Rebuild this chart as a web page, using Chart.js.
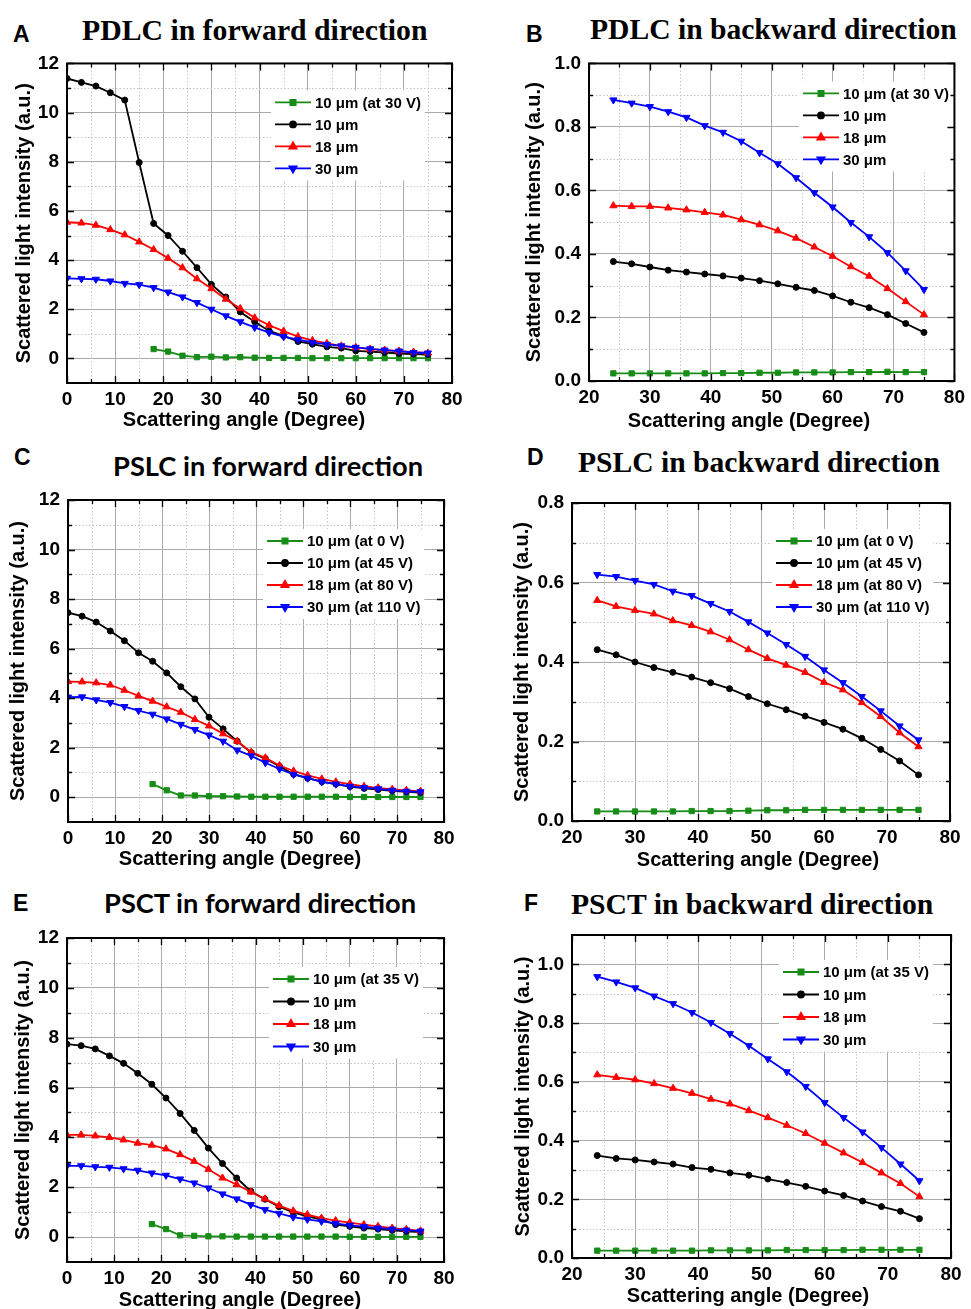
<!DOCTYPE html>
<html>
<head>
<meta charset="utf-8">
<script src="https://cdn.jsdelivr.net/npm/chart.js@4.4.0/dist/chart.umd.min.js"></script>
<style>
html, body { margin: 0; padding: 0; background: #fff; overflow: hidden; }
body { width: 971px; height: 1309px; position: relative; }
canvas { position: absolute; }
.lbl { position: absolute; font-weight: bold; white-space: nowrap; line-height: 1; transform: translateY(-50%); color: #000; }
.letter { font-family: "Liberation Sans", Arial, sans-serif; font-size: 23px; }
.serif { font-family: "Liberation Serif", "Times New Roman", serif; }
.sans { font-family: Lato, "Open Sans", sans-serif; }
</style>
</head>
<body>
<script>
// scattering angles
const anglesFwd = [0, 3, 6, 9, 12, 15, 18, 21, 24, 27, 30, 33, 36, 39, 42, 45, 48, 51, 54, 57, 60, 63, 66, 69, 72, 75];
const anglesFwdOn = [18, 21, 24, 27, 30, 33, 36, 39, 42, 45, 48, 51, 54, 57, 60, 63, 66, 69, 72, 75];
const anglesBwd = [24, 27, 30, 33, 36, 39, 42, 45, 48, 51, 54, 57, 60, 63, 66, 69, 72, 75];

// legend labels
const labelsPdlc = ["10 μm (at 30 V)", "10 μm", "18 μm", "30 μm"];
const labelsPslc = ["10 μm (at 0 V)", "10 μm (at 45 V)", "18 μm (at 80 V)", "30 μm (at 110 V)"];
const labelsPsct = ["10 μm (at 35 V)", "10 μm", "18 μm", "30 μm"];

// tick labels
const xTicksFwd = [0, 10, 20, 30, 40, 50, 60, 70, 80];
const xTicksBwd = [20, 30, 40, 50, 60, 70, 80];
const yTicksFwd = [0, 2, 4, 6, 8, 10, 12];
const yTicksB = [0, 0.2, 0.4, 0.6, 0.8, 1.0];
const yTicksD = [0, 0.2, 0.4, 0.6, 0.8];
const yTicksF = [0, 0.2, 0.4, 0.6, 0.8, 1.0];

// A: PDLC forward
const pdlcFwdOn = [0.38, 0.28, 0.11, 0.05, 0.07, 0.04, 0.05, 0.03, 0.02, 0.02, 0.02, 0.01, 0.01, 0.01, 0.01, 0.01, 0.01, 0.01, 0.01, 0.01];
const pdlcFwd10 = [11.39, 11.23, 11.08, 10.81, 10.51, 7.97, 5.49, 5.0, 4.36, 3.69, 3.01, 2.5, 1.89, 1.49, 1.12, 0.92, 0.69, 0.58, 0.47, 0.42, 0.31, 0.28, 0.24, 0.2, 0.18, 0.16];
const pdlcFwd18 = [5.54, 5.51, 5.42, 5.24, 5.03, 4.74, 4.43, 4.08, 3.69, 3.24, 2.84, 2.41, 2.03, 1.65, 1.35, 1.11, 0.89, 0.73, 0.61, 0.51, 0.45, 0.38, 0.34, 0.3, 0.26, 0.22];
const pdlcFwd30 = [3.26, 3.24, 3.22, 3.15, 3.05, 3.0, 2.88, 2.7, 2.5, 2.27, 2.0, 1.73, 1.49, 1.26, 1.05, 0.89, 0.76, 0.65, 0.57, 0.51, 0.45, 0.39, 0.34, 0.3, 0.24, 0.22];

// B: PDLC backward
const pdlcBwdOn = [0.024, 0.024, 0.024, 0.024, 0.024, 0.024, 0.025, 0.025, 0.026, 0.026, 0.027, 0.027, 0.027, 0.028, 0.028, 0.029, 0.028, 0.028];
const pdlcBwd10 = [0.376, 0.369, 0.359, 0.349, 0.343, 0.337, 0.331, 0.324, 0.316, 0.306, 0.295, 0.285, 0.268, 0.248, 0.231, 0.209, 0.181, 0.153];
const pdlcBwd18 = [0.552, 0.55, 0.55, 0.545, 0.539, 0.531, 0.523, 0.508, 0.492, 0.473, 0.45, 0.422, 0.393, 0.36, 0.33, 0.291, 0.25, 0.209];
const pdlcBwd30 = [0.885, 0.875, 0.864, 0.848, 0.83, 0.804, 0.783, 0.755, 0.719, 0.684, 0.64, 0.593, 0.548, 0.499, 0.454, 0.404, 0.347, 0.288];

// C: PSLC forward
const pslcFwd0V = [0.53, 0.28, 0.07, 0.07, 0.04, 0.04, 0.03, 0.02, 0.02, 0.02, 0.02, 0.02, 0.02, 0.02, 0.01, 0.01, 0.01, 0.01, 0.01, 0.01];
const pslcFwd10 = [7.45, 7.31, 7.07, 6.71, 6.32, 5.83, 5.49, 5.02, 4.46, 3.97, 3.23, 2.76, 2.26, 1.8, 1.56, 1.25, 0.93, 0.77, 0.63, 0.53, 0.43, 0.36, 0.31, 0.26, 0.22, 0.19];
const pslcFwd18 = [4.67, 4.66, 4.62, 4.53, 4.32, 4.09, 3.88, 3.65, 3.43, 3.14, 2.88, 2.56, 2.26, 1.82, 1.59, 1.28, 1.06, 0.88, 0.74, 0.62, 0.53, 0.44, 0.38, 0.32, 0.28, 0.24];
const pslcFwd30 = [4.04, 4.05, 3.93, 3.82, 3.66, 3.5, 3.35, 3.16, 2.94, 2.73, 2.51, 2.26, 1.9, 1.67, 1.39, 1.14, 0.92, 0.77, 0.62, 0.53, 0.44, 0.39, 0.34, 0.28, 0.24, 0.22];

// D: PSLC backward
const pslcBwd0V = [0.024, 0.024, 0.024, 0.024, 0.024, 0.025, 0.025, 0.025, 0.026, 0.027, 0.027, 0.028, 0.028, 0.028, 0.028, 0.028, 0.028, 0.028];
const pslcBwd10 = [0.431, 0.418, 0.4, 0.386, 0.374, 0.362, 0.348, 0.333, 0.313, 0.295, 0.28, 0.264, 0.248, 0.231, 0.208, 0.18, 0.151, 0.116];
const pslcBwd18 = [0.555, 0.54, 0.53, 0.521, 0.504, 0.492, 0.476, 0.456, 0.431, 0.409, 0.392, 0.374, 0.349, 0.33, 0.298, 0.263, 0.222, 0.187];
const pslcBwd30 = [0.62, 0.615, 0.605, 0.595, 0.578, 0.567, 0.547, 0.527, 0.501, 0.473, 0.444, 0.414, 0.38, 0.348, 0.313, 0.277, 0.239, 0.204];

// E: PSCT forward
const psctFwdOn = [0.52, 0.32, 0.07, 0.05, 0.03, 0.03, 0.02, 0.02, 0.02, 0.02, 0.02, 0.02, 0.02, 0.02, 0.01, 0.01, 0.01, 0.01, 0.01, 0.01];
const psctFwd10 = [7.74, 7.68, 7.55, 7.27, 6.97, 6.57, 6.13, 5.58, 4.96, 4.28, 3.57, 2.95, 2.37, 1.84, 1.52, 1.22, 0.99, 0.83, 0.71, 0.5, 0.43, 0.36, 0.32, 0.27, 0.23, 0.2];
const psctFwd18 = [4.1, 4.1, 4.06, 4.0, 3.9, 3.77, 3.69, 3.54, 3.31, 3.04, 2.72, 2.37, 2.11, 1.81, 1.53, 1.26, 1.05, 0.9, 0.76, 0.66, 0.58, 0.5, 0.43, 0.36, 0.31, 0.25];
const psctFwd30 = [2.86, 2.86, 2.82, 2.8, 2.74, 2.68, 2.57, 2.48, 2.33, 2.17, 1.97, 1.73, 1.53, 1.3, 1.1, 0.95, 0.8, 0.71, 0.63, 0.55, 0.47, 0.42, 0.36, 0.32, 0.28, 0.24];

// F: PSCT backward
const psctBwdOn = [0.025, 0.025, 0.025, 0.025, 0.025, 0.025, 0.026, 0.026, 0.026, 0.026, 0.027, 0.027, 0.027, 0.027, 0.028, 0.028, 0.028, 0.028];
const psctBwd10 = [0.349, 0.339, 0.334, 0.327, 0.32, 0.308, 0.302, 0.29, 0.282, 0.269, 0.257, 0.244, 0.228, 0.213, 0.194, 0.175, 0.159, 0.134];
const psctBwd18 = [0.624, 0.615, 0.607, 0.594, 0.578, 0.561, 0.541, 0.525, 0.502, 0.478, 0.452, 0.424, 0.391, 0.358, 0.325, 0.29, 0.254, 0.209];
const psctBwd30 = [0.958, 0.94, 0.92, 0.892, 0.866, 0.836, 0.802, 0.764, 0.723, 0.678, 0.634, 0.584, 0.529, 0.478, 0.429, 0.376, 0.32, 0.263];

// series look (same order in every panel)
const seriesColors = ["#178c17", "#000000", "#ff0000", "#0000ff"];
const seriesPoints = ["rect", "circle", "triangle", "triangle"];
const seriesRot = [0, 0, 0, 180];
const seriesRadius = [3.7, 3.0, 4.1, 4.1];

const sansFont = '"Liberation Sans", Arial, sans-serif';
const tickSize = 19;
const axisTitleSize = 20;
const legendSize = 15;
const xTitleText = "Scattering angle (Degree)";
const yTitleText = "Scattered light intensity (a.u.)";

// panels: box = canvas rect on page, area = plot frame on page
const panels = [
  { box: [0, 45, 485, 445], area: [67, 63, 452, 383], x: [0, 80], y: [-1, 12], xTicks: xTicksFwd, yTicks: yTicksFwd, dec: 0,
    labels: labelsPdlc, series: [[anglesFwdOn, pdlcFwdOn], [anglesFwd, pdlcFwd10], [anglesFwd, pdlcFwd18], [anglesFwd, pdlcFwd30]],
    yTitleX: 24, xTitle: [244, 420], legend: { dx: 208, dy: 39, gap: 22 } },
  { box: [485, 45, 971, 445], area: [589, 63, 961, 381], x: [20, 80], y: [0, 1.0], xTicks: xTicksBwd, yTicks: yTicksB, dec: 1,
    labels: labelsPdlc, series: [[anglesBwd, pdlcBwdOn], [anglesBwd, pdlcBwd10], [anglesBwd, pdlcBwd18], [anglesBwd, pdlcBwd30]],
    yTitleX: 534, xTitle: [749, 421], legend: { dx: 214, dy: 30, gap: 22 } },
  { box: [0, 480, 485, 880], area: [68, 500, 444, 822], x: [0, 80], y: [-1, 12], xTicks: xTicksFwd, yTicks: yTicksFwd, dec: 0,
    labels: labelsPslc, series: [[anglesFwdOn, pslcFwd0V], [anglesFwd, pslcFwd10], [anglesFwd, pslcFwd18], [anglesFwd, pslcFwd30]],
    yTitleX: 18, xTitle: [240, 859], legend: { dx: 199, dy: 41, gap: 22 } },
  { box: [485, 480, 971, 880], area: [572, 503, 950, 821], x: [20, 80], y: [0, 0.8], xTicks: xTicksBwd, yTicks: yTicksD, dec: 1,
    labels: labelsPslc, series: [[anglesBwd, pslcBwd0V], [anglesBwd, pslcBwd10], [anglesBwd, pslcBwd18], [anglesBwd, pslcBwd30]],
    yTitleX: 522, xTitle: [758, 860], legend: { dx: 204, dy: 38, gap: 22 } },
  { box: [0, 915, 485, 1309], area: [67, 938, 444, 1262], x: [0, 80], y: [-1, 12], xTicks: xTicksFwd, yTicks: yTicksFwd, dec: 0,
    labels: labelsPsct, series: [[anglesFwdOn, psctFwdOn], [anglesFwd, psctFwd10], [anglesFwd, psctFwd18], [anglesFwd, psctFwd30]],
    yTitleX: 23, xTitle: [240, 1300], legend: { dx: 206, dy: 41, gap: 22.5 } },
  { box: [485, 915, 971, 1309], area: [572, 935, 951, 1258], x: [20, 80], y: [0, 1.1], xTicks: xTicksBwd, yTicks: yTicksF, dec: 1,
    labels: labelsPsct, series: [[anglesBwd, psctBwdOn], [anglesBwd, psctBwd10], [anglesBwd, psctBwd18], [anglesBwd, psctBwd30]],
    yTitleX: 523, xTitle: [748, 1296], legend: { dx: 211, dy: 37, gap: 22.5 } }
];

// panel titles and letters
const titles = [
  { t: "A", cls: "letter", x: 13, cy: 34 },
  { t: "PDLC in forward direction", cls: "serif", x: 82, cy: 30, w: 346 },
  { t: "B", cls: "letter", x: 526, cy: 34 },
  { t: "PDLC in backward direction", cls: "serif", x: 590, cy: 30, w: 367 },
  { t: "C", cls: "letter", x: 14, cy: 457 },
  { t: "PSLC in forward direction", cls: "sans", x: 113, cy: 466, w: 310 },
  { t: "D", cls: "letter", x: 527, cy: 457 },
  { t: "PSLC in backward direction", cls: "serif", x: 578, cy: 463, w: 362 },
  { t: "E", cls: "letter", x: 13, cy: 903 },
  { t: "PSCT in forward direction", cls: "sans", x: 104, cy: 903, w: 312 },
  { t: "F", cls: "letter", x: 524, cy: 903 },
  { t: "PSCT in backward direction", cls: "serif", x: 571, cy: 905, w: 362 }
];

titles.forEach(s => {
  const d = document.createElement("div");
  d.className = "lbl " + s.cls;
  d.textContent = s.t;
  d.style.left = s.x + "px";
  d.style.top = s.cy + "px";
  if (s.w) d.style.fontSize = "30px";
  document.body.appendChild(d);
  if (s.w) d.style.fontSize = (30 * s.w / d.offsetWidth) + "px";
});

function midpoints(ticks) {
  const out = [];
  for (let i = 0; i < ticks.length - 1; i++) out.push((ticks[i] + ticks[i + 1]) / 2);
  return out;
}

// minor grid, in-plot legend, frame, inward ticks and x title
const decor = {
  id: "panelDecor",
  beforeDatasetsDraw(chart, args, opts) {
    const { ctx, chartArea: ca, scales } = chart;
    ctx.save();
    ctx.strokeStyle = "#c4c4c4";
    ctx.lineWidth = 1;
    ctx.setLineDash([1.5, 2]);
    midpoints(opts.xTicks).forEach(v => {
      const px = Math.round(scales.x.getPixelForValue(v)) + 0.5;
      ctx.beginPath(); ctx.moveTo(px, ca.top); ctx.lineTo(px, ca.bottom); ctx.stroke();
    });
    midpoints(opts.yTicks).forEach(v => {
      const py = Math.round(scales.y.getPixelForValue(v)) + 0.5;
      ctx.beginPath(); ctx.moveTo(ca.left, py); ctx.lineTo(ca.right, py); ctx.stroke();
    });
    ctx.restore();
  },
  afterDatasetsDraw(chart, args, opts) {
    const { ctx, chartArea: ca } = chart;
    const lg = opts.legend;
    const x0 = ca.left + lg.dx, y0 = ca.top + lg.dy;
    ctx.save();
    ctx.font = "bold " + legendSize + "px " + sansFont;
    const sets = chart.data.datasets;
    const maxW = Math.max(...sets.map(d => ctx.measureText(d.label).width));
    ctx.fillStyle = "#fff";
    ctx.fillRect(x0 - 4, y0 - 12, 36 + 6 + maxW + 6, (sets.length - 1) * lg.gap + 24);
    sets.forEach((d, i) => {
      const y = y0 + i * lg.gap;
      ctx.strokeStyle = d.borderColor;
      ctx.fillStyle = d.borderColor;
      ctx.lineWidth = 1.8;
      ctx.setLineDash([]);
      ctx.beginPath(); ctx.moveTo(x0, y); ctx.lineTo(x0 + 36, y); ctx.stroke();
      Chart.helpers.drawPoint(ctx, { pointStyle: d.pointStyle, rotation: d.pointRotation, radius: d.pointRadius, borderWidth: 1 }, x0 + 18, y);
      ctx.fillStyle = "#000";
      ctx.textBaseline = "middle";
      ctx.textAlign = "left";
      ctx.fillText(d.label, x0 + 40, y + 1);
    });
    ctx.restore();
  },
  afterDraw(chart, args, opts) {
    const { ctx, chartArea: ca, scales } = chart;
    ctx.save();
    ctx.strokeStyle = "#000";
    ctx.lineWidth = 1.3;
    const tick = (v, len, horiz) => {
      if (horiz) {
        const px = Math.round(scales.x.getPixelForValue(v)) + 0.5;
        ctx.beginPath();
        ctx.moveTo(px, ca.bottom); ctx.lineTo(px, ca.bottom - len);
        ctx.moveTo(px, ca.top); ctx.lineTo(px, ca.top + len);
        ctx.stroke();
      } else {
        const py = Math.round(scales.y.getPixelForValue(v)) + 0.5;
        ctx.beginPath();
        ctx.moveTo(ca.left, py); ctx.lineTo(ca.left + len, py);
        ctx.moveTo(ca.right, py); ctx.lineTo(ca.right - len, py);
        ctx.stroke();
      }
    };
    opts.xTicks.forEach(v => tick(v, 7, true));
    midpoints(opts.xTicks).forEach(v => tick(v, 4, true));
    opts.yTicks.forEach(v => tick(v, 7, false));
    midpoints(opts.yTicks).forEach(v => tick(v, 4, false));
    ctx.lineWidth = 2;
    ctx.strokeRect(ca.left, ca.top, ca.right - ca.left, ca.bottom - ca.top);

    // x axis title, placed as in the original figure (slightly left of centre)
    ctx.fillStyle = "#000";
    ctx.font = "bold " + axisTitleSize + "px " + sansFont;
    ctx.textAlign = "center";
    ctx.textBaseline = "middle";
    ctx.fillText(opts.xTitle.text, opts.xTitle.x, opts.xTitle.y);
    ctx.restore();
  }
};

function makePanel(p) {
  const cv = document.createElement("canvas");
  const w = p.box[2] - p.box[0], h = p.box[3] - p.box[1];
  cv.width = w; cv.height = h;
  cv.style.left = p.box[0] + "px"; cv.style.top = p.box[1] + "px";
  cv.style.width = w + "px"; cv.style.height = h + "px";
  document.body.appendChild(cv);

  const yW = p.area[0] - p.box[0];
  const xH = p.box[3] - p.area[3];
  const half = axisTitleSize / 2;
  const titleFont = { family: sansFont, size: axisTitleSize, weight: "bold", lineHeight: 1 };
  const tickFont = { family: sansFont, size: tickSize, weight: "bold", lineHeight: 1.1 };

  new Chart(cv.getContext("2d"), {
    type: "line",
    data: {
      datasets: p.series.map((s, i) => ({
        label: p.labels[i],
        data: s[0].map((x, j) => ({ x: x, y: s[1][j] })),
        borderColor: seriesColors[i],
        backgroundColor: seriesColors[i],
        pointStyle: seriesPoints[i],
        pointRotation: seriesRot[i],
        pointRadius: seriesRadius[i],
        pointBorderWidth: 1,
        borderWidth: 1.8,
        tension: 0,
        order: 4 - i
      }))
    },
    options: {
      responsive: false,
      animation: false,
      devicePixelRatio: 1,
      layout: { padding: { left: 0, top: p.area[1] - p.box[1], right: p.box[2] - p.area[2], bottom: 0 } },
      plugins: {
        legend: { display: false },
        tooltip: { enabled: false },
        panelDecor: {
          xTicks: p.xTicks, yTicks: p.yTicks, legend: p.legend,
          xTitle: { text: xTitleText, x: p.xTitle[0] - p.box[0], y: p.xTitle[1] - p.box[1] }
        }
      },
      scales: {
        x: {
          type: "linear", min: p.x[0], max: p.x[1],
          afterFit: s => { s.height = xH; },
          afterBuildTicks: s => { s.ticks = p.xTicks.map(v => ({ value: v })); },
          ticks: { color: "#000", font: tickFont, padding: 6, maxRotation: 0, callback: v => String(v) },
          grid: { color: "#aaaaaa", lineWidth: 1, drawTicks: false },
          border: { display: false },
          title: { display: false }
        },
        y: {
          type: "linear", min: p.y[0], max: p.y[1],
          afterFit: s => { s.width = yW; },
          afterBuildTicks: s => { s.ticks = p.yTicks.map(v => ({ value: v })); },
          ticks: { color: "#000", font: tickFont, padding: 8, callback: v => Number(v).toFixed(p.dec) },
          grid: { color: "#aaaaaa", lineWidth: 1, drawTicks: false },
          border: { display: false },
          title: { display: true, text: yTitleText, color: "#000", font: titleFont,
                   padding: { top: Math.max(0, p.yTitleX - p.box[0] - half), bottom: 0 } }
        }
      }
    },
    plugins: [decor]
  });
}

panels.forEach(makePanel);
</script>
</body>
</html>
